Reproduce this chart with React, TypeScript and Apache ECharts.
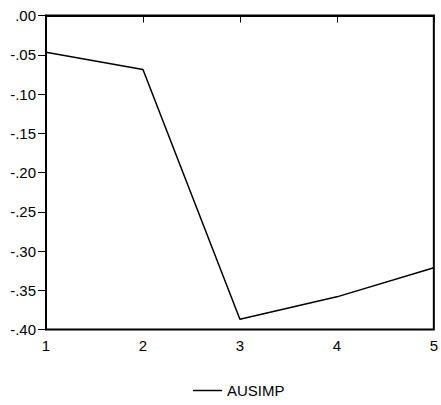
import React, { useEffect, useRef } from "react";
import * as echarts from "echarts";

const categories = ["1", "2", "3", "4", "5"];
const ausimp = [-0.0467, -0.0689, -0.387, -0.3584, -0.3214];
const seriesName = "AUSIMP";

const fmt = (v: number) => {
  const s = Math.abs(v).toFixed(2).replace(/^0/, "");
  return (v < -1e-9 ? "-" : "") + s;
};

const FONT = "Liberation Sans, Arial, sans-serif";

export default function App() {
  const ref = useRef<HTMLDivElement>(null);
  useEffect(() => {
    const chart = echarts.init(ref.current!, null, { renderer: "svg" });
    chart.setOption({
      animation: false,
      backgroundColor: "#ffffff",
      textStyle: { fontFamily: FONT },
      grid: {
        left: 46,
        right: 5,
        top: 15.5,
        bottom: 75.5,
        show: true,
        borderColor: "#000",
        borderWidth: 2,
        containLabel: false,
      },
      legend: {
        left: 193,
        top: 383,
        padding: 0,
        itemWidth: 29,
        itemHeight: 14,
        itemGap: 10,
        textStyle: { fontSize: 15, color: "#000", fontFamily: FONT },
        data: [{ name: seriesName, icon: "path://M0,0 L30,0 L30,1.5 L0,1.5 Z" }],
      },
      xAxis: {
        type: "category",
        data: categories,
        boundaryGap: false,
        axisLine: { show: true, lineStyle: { color: "#000", width: 2 } },
        axisTick: { show: true, length: 7, lineStyle: { color: "#000", width: 1 } },
        axisLabel: { color: "#000", fontSize: 15, margin: 8, fontFamily: FONT },
        splitLine: { show: false },
      },
      yAxis: {
        type: "value",
        min: -0.4,
        max: 0,
        interval: 0.05,
        axisLine: { show: true, lineStyle: { color: "#000", width: 2 } },
        axisTick: { show: true, length: 8, lineStyle: { color: "#000", width: 1 } },
        axisLabel: { color: "#000", fontSize: 15, margin: 10, formatter: fmt, fontFamily: FONT },
        splitLine: { show: false },
      },
      series: [
        {
          name: seriesName,
          type: "line",
          data: ausimp,
          symbol: "none",
          lineStyle: { color: "#000", width: 1.5 },
          itemStyle: { color: "#000" },
        },
      ],
    });
    return () => chart.dispose();
  }, []);
  return (
    <div
      ref={ref}
      style={{ position: "absolute", left: 0, top: 0, width: 441, height: 405 }}
    />
  );
}
